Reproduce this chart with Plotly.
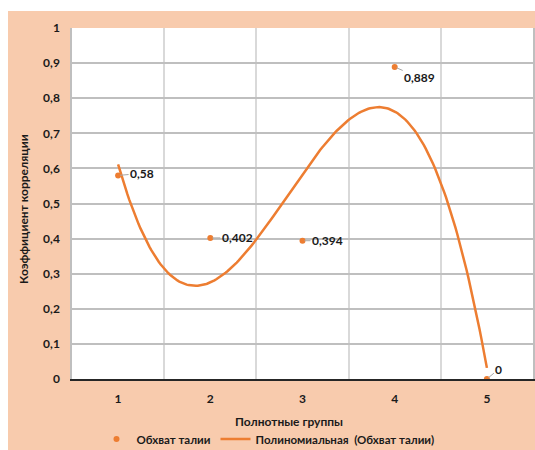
import numpy as np
import plotly.graph_objects as go

categories = [1, 2, 3, 4, 5]
values = [0.58, 0.402, 0.394, 0.889, 0.0]
value_labels = ["0,58", "0,402", "0,394", "0,889", "0"]
series_name = "Обхват талии"
trend_name = "Полиномиальная  (Обхват талии)"
x_title = "Полнотные группы"
y_title = "Коэффициент корреляции"

ORANGE = "#ED7D31"
PEACH = "#F8CBAD"
GRID = "#BFBFBF"
TXT = "#1a1a1a"
FONT = "Lato"

# polynomial (3rd order) trendline computed from the data
coef = np.polyfit(categories, values, 3)
xt = np.linspace(categories[0], categories[-1], 200)
yt = np.polyval(coef, xt)

fig = go.Figure()
fig.add_trace(go.Scatter(x=categories, y=values, mode="markers", name=f"<b>{series_name}</b>",
                         marker=dict(color=ORANGE, size=6)))
fig.add_trace(go.Scatter(x=xt, y=yt, mode="lines", name=f"<b>{trend_name}</b>",
                         line=dict(color=ORANGE, width=2.5)))

offsets = [(24, -2), (27, 0), (25, 0), (25, 11), (12, -10)]
for xv, yv, lab, (ax, ay) in zip(categories, values, value_labels, offsets):
    fig.add_annotation(x=xv, y=yv, text=f"<b>{lab}</b>", showarrow=True, arrowhead=0,
                       arrowwidth=1, arrowcolor="#A6A6A6", ax=ax, ay=ay, standoff=2,
                       font=dict(family=FONT, size=12, color=TXT))

L, T, R, B = 72, 28, 2, 71
W, H = 535, 450
pw, ph = W - L - R, H - T - B

fig.add_annotation(text=f"<b>{x_title}</b>", xref="paper", yref="paper",
                   x=(289 - L) / pw, y=(H - B - 421) / ph, xanchor="center", yanchor="middle",
                   showarrow=False, font=dict(family=FONT, size=12, color=TXT))
fig.add_annotation(text=f"<b>{y_title}</b>", xref="paper", yref="paper",
                   x=(23 - L) / pw, y=(H - B - 209) / ph, xanchor="center", yanchor="middle",
                   showarrow=False, textangle=-90,
                   font=dict(family=FONT, size=12, color=TXT))

# white strips at top and left of the peach chart area
fig.add_shape(type="rect", xref="paper", yref="paper", x0=-L / pw - 0.1, x1=(W - L) / pw + 0.1,
              y0=(H - B - 11) / ph, y1=(H - B) / ph + 0.1, fillcolor="white", line_width=0,
              layer="below")
fig.add_shape(type="rect", xref="paper", yref="paper", x0=-L / pw - 0.1, x1=(8 - L) / pw,
              y0=-B / ph - 0.1, y1=(H - B) / ph + 0.1, fillcolor="white", line_width=0,
              layer="below")

fig.update_layout(
    width=W, height=H, margin=dict(l=L, r=R, t=T, b=B, autoexpand=False),
    paper_bgcolor=PEACH, plot_bgcolor="white", separators=", ",
    font=dict(family=FONT, size=12, color=TXT),
    showlegend=True,
    legend=dict(orientation="h", xref="container", yref="container",
                xanchor="center", yanchor="middle",
                x=268 / W, y=(H - 439) / H, bgcolor="rgba(0,0,0,0)",
                font=dict(family=FONT, size=11.5, color=TXT), tracegroupgap=0),
)
fig.update_xaxes(range=[0.5, 5.5], tickvals=categories,
                 ticktext=[f"<b>{c}</b>" for c in categories],
                 showgrid=False, zeroline=False, showline=True, linecolor="#262626",
                 linewidth=1.5, ticks="outside", ticklen=8, tickcolor="rgba(0,0,0,0)",
                 tickfont=dict(family=FONT, size=12, color=TXT),
                 minor=dict(tickvals=[1.5, 2.5, 3.5, 4.5], showgrid=True, gridcolor="#D9D9D9",
                            gridwidth=1.5, ticks=""))
fig.update_yaxes(range=[0, 1], dtick=0.1, tickformat=".1~f", showgrid=True, gridcolor=GRID,
                 gridwidth=1.5, zeroline=False, showline=True, mirror=True, linecolor=GRID,
                 linewidth=1.5, ticks="outside", ticklen=8, tickcolor="rgba(0,0,0,0)",
                 tickfont=dict(family=FONT, size=12, color=TXT),
                 tickprefix="<b>", ticksuffix="</b>")

fig.write_html("out.html")
